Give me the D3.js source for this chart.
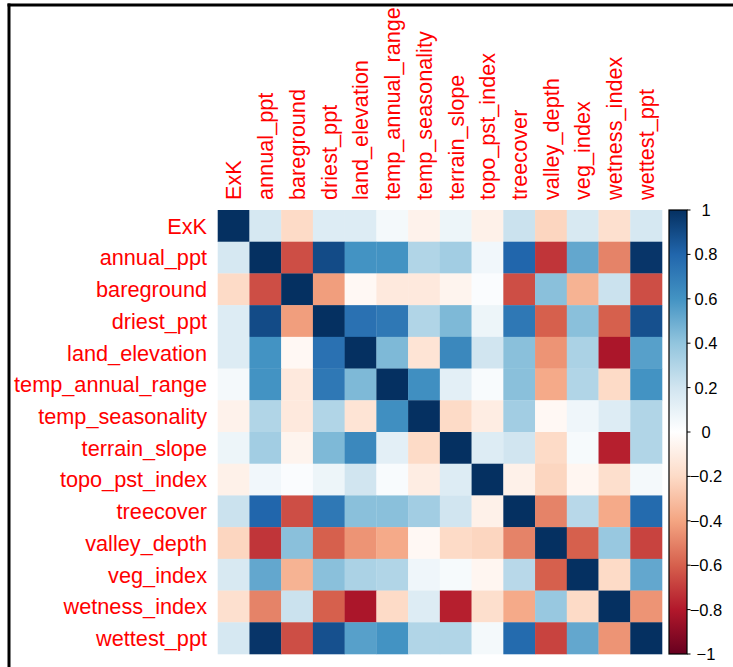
<!DOCTYPE html>
<html>
<head>
<meta charset="utf-8">
<script src="https://cdn.jsdelivr.net/npm/d3@7"></script>
<style>
  body { margin: 0; background: #fff; }
  svg { display: block; font-family: "Liberation Sans", Arial, sans-serif; }
</style>
</head>
<body>
<svg id="chart" width="733" height="667"></svg>
<script>
const variables = ["ExK","annual_ppt","bareground","driest_ppt","land_elevation","temp_annual_range","temp_seasonality","terrain_slope","topo_pst_index","treecover","valley_depth","veg_index","wetness_index","wettest_ppt"];

const corrRows = [
  [ 1.00, 0.18,-0.20, 0.15, 0.15, 0.05,-0.07, 0.08,-0.08, 0.22,-0.22, 0.17,-0.17, 0.18],
  [ 0.18, 1.00,-0.65, 0.90, 0.60, 0.60, 0.30, 0.35, 0.06, 0.80,-0.72, 0.52,-0.50, 0.98],
  [-0.20,-0.65, 1.00,-0.42,-0.04,-0.12,-0.12,-0.06, 0.02,-0.65, 0.42,-0.35, 0.22,-0.65],
  [ 0.15, 0.90,-0.42, 1.00, 0.75, 0.72, 0.30, 0.45, 0.08, 0.72,-0.60, 0.42,-0.60, 0.88],
  [ 0.15, 0.60,-0.04, 0.75, 1.00, 0.45,-0.15, 0.65, 0.20, 0.42,-0.45, 0.32,-0.82, 0.55],
  [ 0.05, 0.60,-0.12, 0.72, 0.45, 1.00, 0.62, 0.12, 0.03, 0.42,-0.38, 0.30,-0.20, 0.60],
  [-0.07, 0.30,-0.12, 0.30,-0.15, 0.62, 1.00,-0.20,-0.10, 0.35,-0.04, 0.07, 0.15, 0.30],
  [ 0.08, 0.35,-0.06, 0.45, 0.65, 0.12,-0.20, 1.00, 0.15, 0.20,-0.20, 0.04,-0.78, 0.30],
  [-0.08, 0.06, 0.02, 0.08, 0.20, 0.03,-0.10, 0.15, 1.00,-0.08,-0.22,-0.05,-0.18, 0.05],
  [ 0.22, 0.80,-0.65, 0.72, 0.42, 0.42, 0.35, 0.20,-0.08, 1.00,-0.50, 0.28,-0.38, 0.78],
  [-0.22,-0.72, 0.42,-0.60,-0.45,-0.38,-0.04,-0.20,-0.22,-0.50, 1.00,-0.60, 0.38,-0.68],
  [ 0.17, 0.52,-0.35, 0.42, 0.32, 0.30, 0.07, 0.04,-0.05, 0.28,-0.60, 1.00,-0.20, 0.52],
  [-0.17,-0.50, 0.22,-0.60,-0.82,-0.20, 0.15,-0.78,-0.18,-0.38, 0.38,-0.20, 1.00,-0.45],
  [ 0.18, 0.98,-0.65, 0.88, 0.55, 0.60, 0.30, 0.30, 0.05, 0.78,-0.68, 0.52,-0.45, 1.00]
];

const legendTicks = [1, 0.8, 0.6, 0.4, 0.2, 0, -0.2, -0.4, -0.6, -0.8, -1];
const paletteColors = ["#67001F","#B2182B","#D6604D","#F4A582","#FDDBC7","#FFFFFF","#D1E5F0","#92C5DE","#4393C3","#2166AC","#053061"];

const svg = d3.select("#chart");
svg.append("rect").attr("width", 733).attr("height", 667).attr("fill", "#fff");

const gx0 = 217.7, gx1 = 662, gy0 = 210, gy1 = 654;
const x = d3.scaleBand().domain(variables).range([gx0, gx1]);
const y = d3.scaleBand().domain(variables).range([gy0, gy1]);
const color = d3.scaleLinear()
  .domain(d3.range(paletteColors.length).map(i => -1 + 2 * i / (paletteColors.length - 1)))
  .range(paletteColors);

const cells = [];
corrRows.forEach((row, i) => row.forEach((v, j) => cells.push({r: variables[i], c: variables[j], v})));

svg.append("g").selectAll("rect").data(cells).join("rect")
  .attr("x", d => x(d.c))
  .attr("y", d => y(d.r))
  .attr("width", x.bandwidth() + 0.3)
  .attr("height", y.bandwidth() + 0.3)
  .attr("fill", d => color(d.v));

// row labels
svg.append("g").selectAll("text").data(variables).join("text")
  .attr("x", 207)
  .attr("y", d => y(d) + y.bandwidth() / 2)
  .attr("dy", "0.36em")
  .attr("text-anchor", "end")
  .attr("fill", "#ff0000")
  .attr("font-size", "21.7px")
  .text(d => d);

// column labels
svg.append("g").selectAll("text").data(variables).join("text")
  .attr("transform", d => `translate(${x(d) + x.bandwidth() / 2},200) rotate(-90)`)
  .attr("dy", "0.36em")
  .attr("text-anchor", "start")
  .attr("fill", "#ff0000")
  .attr("font-size", "21.7px")
  .text(d => d);

// color legend
const lg = d3.scaleLinear().domain([-1, 1]).range([gy1, gy0]);
const defs = svg.append("defs");
const grad = defs.append("linearGradient").attr("id", "cbar")
  .attr("x1", 0).attr("y1", 1).attr("x2", 0).attr("y2", 0);
paletteColors.forEach((c, i) => grad.append("stop")
  .attr("offset", i / (paletteColors.length - 1)).attr("stop-color", c));

const bx0 = 669, bx1 = 687;
svg.append("rect")
  .attr("x", bx0).attr("y", lg(1))
  .attr("width", bx1 - bx0).attr("height", lg(-1) - lg(1))
  .attr("fill", "url(#cbar)")
  .attr("stroke", "#000").attr("stroke-width", 1.2);

const tg = svg.append("g");
tg.selectAll("line").data(legendTicks).join("line")
  .attr("x1", bx1).attr("x2", bx1 + 3.5)
  .attr("y1", d => lg(d)).attr("y2", d => lg(d))
  .attr("stroke", "#000").attr("stroke-width", 1);
tg.selectAll("text").data(legendTicks).join("text")
  .attr("x", 706)
  .attr("y", d => lg(d))
  .attr("dy", "0.36em")
  .attr("text-anchor", "middle")
  .attr("fill", "#000")
  .attr("font-size", "16.5px")
  .text(d => d3.format("")(d).replace("-0.", "-0."));

// screenshot frame lines
svg.append("line").attr("x1", 7.5).attr("x2", 733).attr("y1", 5).attr("y2", 5)
  .attr("stroke", "#000").attr("stroke-width", 3);
svg.append("line").attr("x1", 9).attr("x2", 9).attr("y1", 3.5).attr("y2", 667)
  .attr("stroke", "#000").attr("stroke-width", 3);
</script>
</body>
</html>
